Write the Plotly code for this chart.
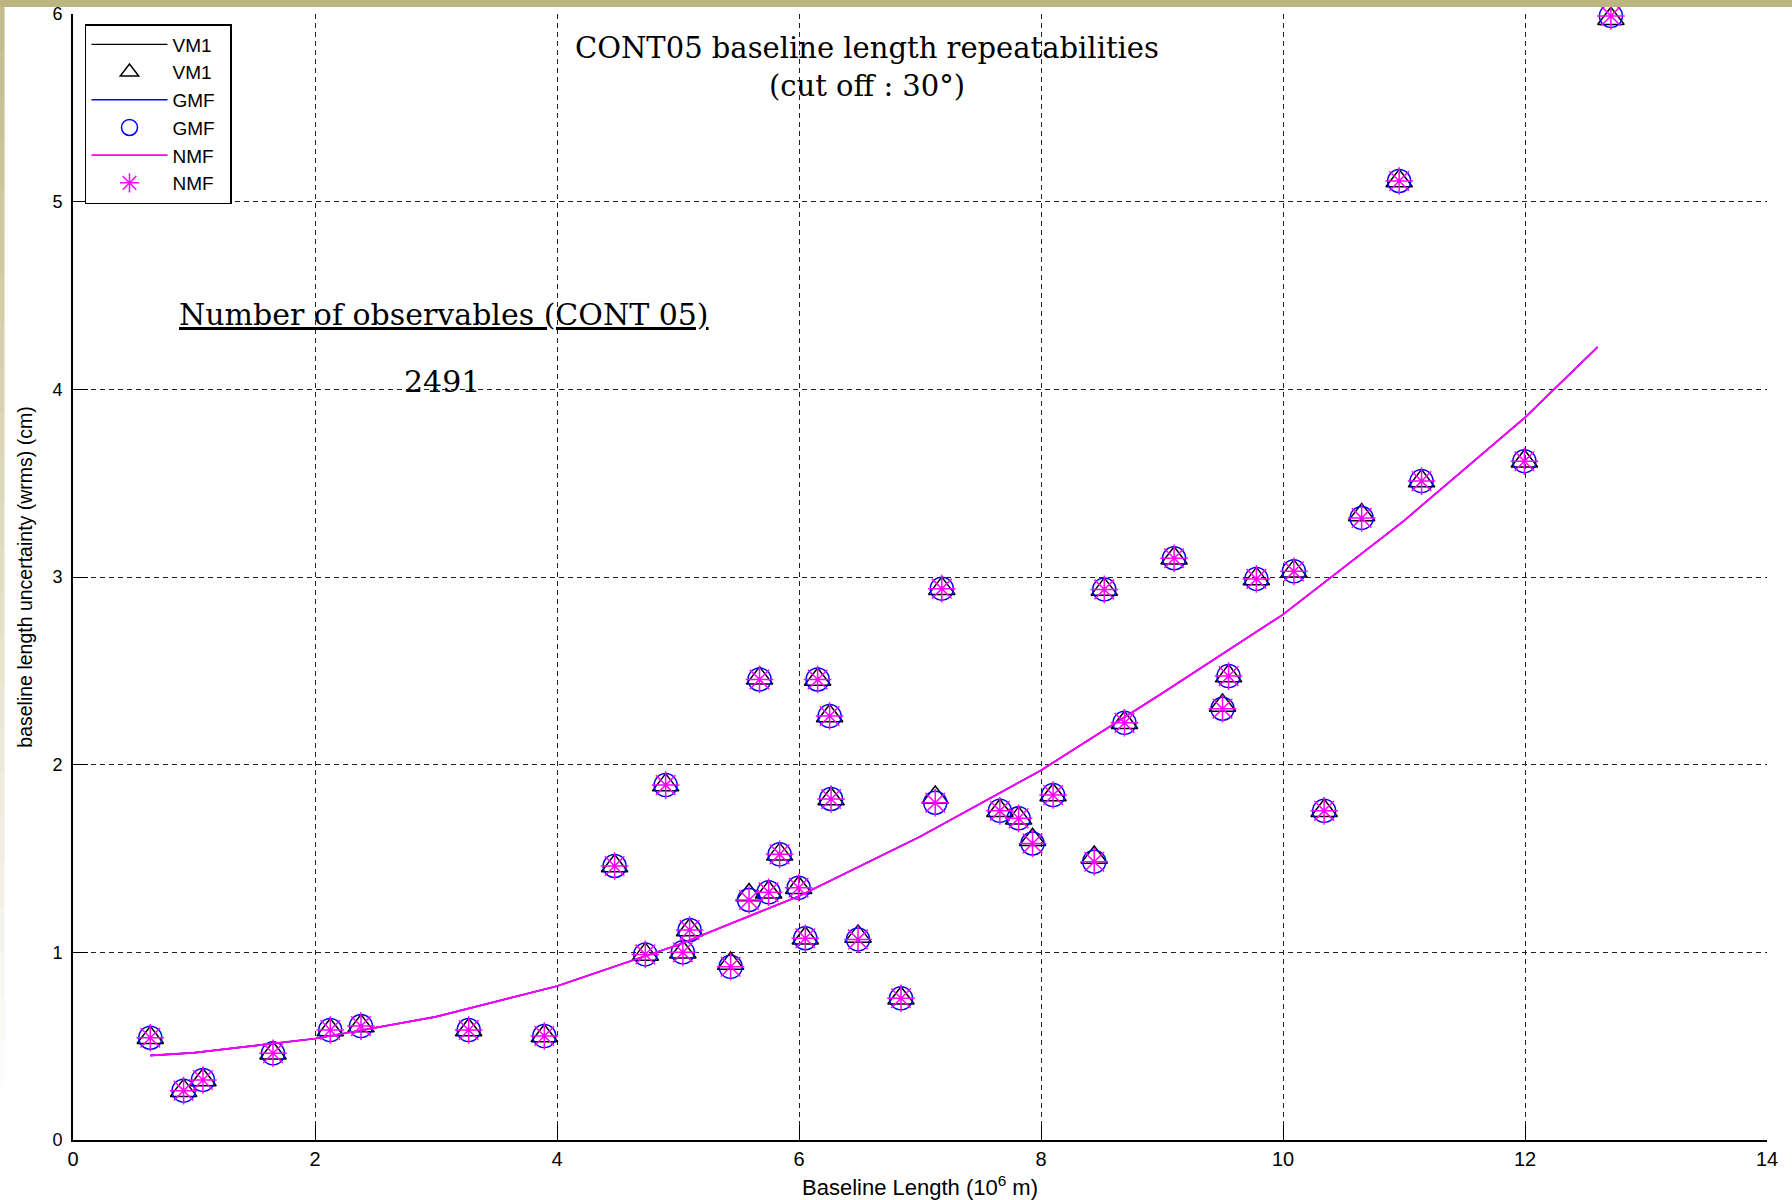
import plotly.graph_objects as go

# ---- data ----
baseline_x = [0.639, 0.914, 1.074, 1.653, 2.126, 2.38, 3.27, 3.895, 4.476, 4.73,
              4.898, 5.04, 5.096, 5.435, 5.587, 5.674, 5.749, 5.84, 5.997, 6.052,
              6.154, 6.253, 6.265, 6.488, 6.843, 7.126, 7.18, 7.66, 7.815, 7.93,
              8.10, 8.44, 8.523, 8.69, 9.10, 9.50, 9.55, 9.78, 10.09, 10.34,
              10.65, 10.96, 11.145, 11.995, 12.71]

gmf_wrms = [0.545, 0.263, 0.32, 0.462, 0.586, 0.607, 0.586, 0.554, 1.46, 0.989,
            1.891, 1.0, 1.119, 0.923, 1.279, 2.454, 1.32, 1.522, 1.344, 1.075,
            2.454, 2.259, 1.817, 1.069, 0.755, 1.797, 2.938, 1.754, 1.714, 1.58,
            1.838, 1.483, 2.934, 2.223, 3.10, 2.298, 2.472, 2.99, 3.03, 1.754,
            3.315, 5.11, 3.511, 3.617, 5.99]

vm1_wrms = [0.545, 0.263, 0.32, 0.462, 0.586, 0.607, 0.586, 0.554, 1.46, 0.989,
            1.891, 1.0, 1.119, 0.94, 1.305, 2.46, 1.32, 1.522, 1.344, 1.075,
            2.454, 2.259, 1.817, 1.085, 0.755, 1.825, 2.938, 1.754, 1.714, 1.60,
            1.838, 1.505, 2.934, 2.223, 3.10, 2.315, 2.472, 2.99, 3.03, 1.754,
            3.33, 5.11, 3.511, 3.617, 5.975]

nmf_wrms = [0.545, 0.263, 0.32, 0.462, 0.586, 0.607, 0.586, 0.554, 1.46, 0.989,
            1.891, 1.0, 1.119, 0.923, 1.279, 2.454, 1.32, 1.522, 1.344, 1.075,
            2.454, 2.259, 1.817, 1.069, 0.755, 1.797, 2.938, 1.754, 1.714, 1.58,
            1.838, 1.483, 2.934, 2.223, 3.10, 2.298, 2.472, 2.99, 3.03, 1.754,
            3.315, 5.11, 3.511, 3.617, 5.99]

fit_x = [0.64, 1, 2, 3, 4, 5, 6, 7, 8, 9, 10, 11, 12, 12.6]
vm1_fit = [0.45, 0.465, 0.54, 0.657, 0.82, 1.04, 1.30, 1.616, 1.97, 2.38, 2.80, 3.30, 3.85, 4.225]
gmf_fit = [0.45, 0.465, 0.54, 0.657, 0.82, 1.04, 1.30, 1.616, 1.97, 2.38, 2.80, 3.30, 3.85, 4.225]
nmf_fit = [0.45, 0.465, 0.54, 0.657, 0.82, 1.04, 1.30, 1.616, 1.97, 2.38, 2.80, 3.30, 3.85, 4.225]

x_ticks = [0, 2, 4, 6, 8, 10, 12, 14]
y_ticks = [0, 1, 2, 3, 4, 5, 6]

SANS = "Liberation Sans, Arial, Helvetica, sans-serif"
SERIF = "DejaVu Serif, Liberation Serif, serif"
PAD = "\u00a0\u00a0"

fig = go.Figure()

series = [
    ("VM1", vm1_fit, vm1_wrms, "#000000", "triangle-up-open", 1.4),
    ("GMF", gmf_fit, gmf_wrms, "#0000ff", "circle-open", 1.4),
    ("NMF", nmf_fit, nmf_wrms, "#ff00ff", "asterisk-open", 1.9),
]
for name, fit, wrms, color, symbol, lw in series:
    fig.add_trace(go.Scatter(
        x=fit_x, y=fit, mode="lines", name=name + PAD,
        line=dict(color=color, width=lw), legendgroup=name + "l"))
    fig.add_trace(go.Scatter(
        x=baseline_x, y=wrms, mode="markers", name=name + PAD, cliponaxis=False,
        marker=dict(symbol=symbol, size=23, color=color,
                    line=dict(color=color, width=1.5)),
        legendgroup=name + "m"))

# text annotations
fig.add_annotation(x=6.565, y=5.818, xref="x", yref="y", showarrow=False,
                   text="CONT05 baseline length repeatabilities",
                   font=dict(family=SERIF, size=29, color="#000"))
fig.add_annotation(x=6.565, y=5.615, xref="x", yref="y", showarrow=False,
                   text="(cut off : 30°)",
                   font=dict(family=SERIF, size=29, color="#000"))
fig.add_annotation(x=3.064, y=4.40, xref="x", yref="y", showarrow=False,
                   text="<u>Number of observables (CONT 05)</u>",
                   font=dict(family=SERIF, size=30, color="#000"))
fig.add_annotation(x=3.052, y=4.044, xref="x", yref="y", showarrow=False,
                   text="2491",
                   font=dict(family=SERIF, size=30, color="#000"))

# slide decoration: top band and fading left strip
shapes = [dict(type="rect", xref="paper", yref="paper", x0=-0.06, x1=1.06,
               y0=1.00622, y1=1.03, fillcolor="#bdb57f", line=dict(width=0),
               layer="above")]
n_seg = 24
for i in range(n_seg):
    top_px = 7 + i * 45
    bot_px = top_px + 45
    shapes.append(dict(type="rect", xref="paper", yref="paper",
                       x0=-0.0431 - 0.001, x1=-0.0404,
                       y0=(1140 - bot_px) / 1126, y1=(1140 - top_px) / 1126,
                       fillcolor="#bdb57f", opacity=max(0.0, 0.9 * (1 - i / n_seg)),
                       line=dict(width=0), layer="above"))

grid_common = dict(showgrid=True, gridcolor="#222222", gridwidth=1.2,
                   griddash="5px,4px", zeroline=False, showline=True,
                   linecolor="#000000", linewidth=1.6, ticks="inside",
                   ticklen=15, tickcolor="#000000", tickwidth=1.4, mirror=False,
                   automargin=False)

fig.update_layout(
    width=1792, height=1200,
    margin=dict(l=73, r=25, t=14, b=60, autoexpand=False),
    paper_bgcolor="#ffffff", plot_bgcolor="#ffffff",
    showlegend=True,
    legend=dict(x=0.00708, y=0.9911, xanchor="left", yanchor="top",
                bgcolor="#ffffff", bordercolor="#000000", borderwidth=1.5,
                font=dict(family=SANS, size=19, color="#000"),
                traceorder="grouped", tracegroupgap=0, itemwidth=76),
    xaxis=dict(range=[0, 14], tickvals=x_ticks,
               tickfont=dict(family=SANS, size=20, color="#000"),
               title=dict(text="Baseline Length (10<sup>6</sup> m)", standoff=14,
                          font=dict(family=SANS, size=22, color="#000")),
               **grid_common),
    yaxis=dict(range=[0, 6], tickvals=y_ticks, ticklabelstandoff=5,
               tickfont=dict(family=SANS, size=18, color="#000"),
               title=dict(text="baseline length uncertainty (wrms) (cm)", standoff=15,
                          font=dict(family=SANS, size=19.5, color="#000")),
               **grid_common),
    shapes=shapes,
)

fig.write_html("out.html", config={"displayModeBar": False},
               post_script="document.body.style.margin='0';")
